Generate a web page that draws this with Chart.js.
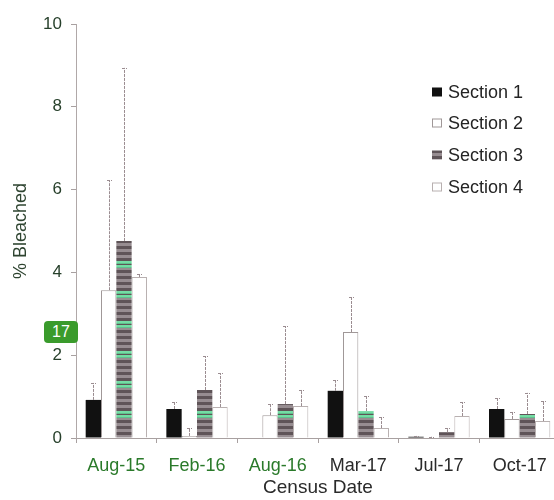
<!DOCTYPE html>
<html><head><meta charset="utf-8">
<script src="https://cdn.jsdelivr.net/npm/chart.js@4"></script>
<style>
html,body{margin:0;padding:0;background:#fff;overflow:hidden;width:554px;height:500px}
#wrap{position:relative;width:562px;height:500px}
#badge{position:absolute;left:44px;top:321px;width:34px;height:22px;background:#3a9b2c;border-radius:4px;color:#fff;font:16px 'Liberation Sans',Arial,sans-serif;text-align:center;line-height:22px}
</style></head><body>
<div id="wrap"><canvas id="c" width="562" height="500"></canvas><div id="badge">17</div></div>
<script>
const categories = ['Aug-15', 'Feb-16', 'Aug-16', 'Mar-17', 'Jul-17', 'Oct-17'];
const seriesNames = ['Section 1', 'Section 2', 'Section 3', 'Section 4'];
const section1 = [0.92, 0.70, 0.00, 1.14, 0.03, 0.70];
const section2 = [3.57, 0.05, 0.55, 2.56, 0.02, 0.46];
const section3 = [4.76, 1.16, 0.82, 0.65, 0.14, 0.58];
const section4 = [3.89, 0.75, 0.77, 0.24, 0.53, 0.41];
const section1Err = [0.41, 0.17, 0.00, 0.26, 0.02, 0.27];
const section2Err = [2.66, 0.19, 0.27, 0.85, 0.01, 0.17];
const section3Err = [4.18, 0.82, 1.88, 0.36, 0.10, 0.51];
const section4Err = [0.06, 0.82, 0.39, 0.27, 0.34, 0.48];
const yTicks = [0, 2, 4, 6, 8, 10];
const tickColors = ['#2a7a2a', '#2a7a2a', '#2a7a2a', '#2a2a2a', '#2a2a2a', '#2a2a2a'];
const FONT = "'Liberation Sans', Arial, sans-serif";

function stripePattern() {
  const p = document.createElement('canvas');
  p.width = 4; p.height = 30;
  const g = p.getContext('2d');
  const D = '#5f5458', L = '#978d91', G1 = '#74dca4', G2 = '#5fc08c';
  const rows = [D,D,D,L,L,L,D,D,D,L,L,L,D,D,D,L,L,L,D,D,D,G1,G1,G2,D,G1,G1,G2,L,L];
  rows.forEach((c, i) => { g.fillStyle = c; g.fillRect(0, i, 4, 1); });
  return g.createPattern(p, 'repeat');
}

const ctx = document.getElementById('c').getContext('2d');
const s3fill = stripePattern();
const fills = ['#111111', '#ffffff', s3fill, '#ffffff'];
const borders = ['#111111', '#a09898', s3fill, '#b8b0b0'];
const values = [section1, section2, section3, section4];
const errs = [section1Err, section2Err, section3Err, section4Err];

const errorBars = {
  id: 'errorBars',
  afterDatasetsDraw(chart) {
    const c = chart.ctx, y = chart.scales.y;
    c.save();
    c.strokeStyle = '#9a8c90';
    c.lineWidth = 1;
    c.setLineDash([3, 1]);
    chart.data.datasets.forEach((ds, di) => {
      const meta = chart.getDatasetMeta(di);
      meta.data.forEach((bar, i) => {
        const e = ds.errors[i];
        if (!e) return;
        const yb = y.getPixelForValue(ds.data[i]);
        const yt = y.getPixelForValue(ds.data[i] + e);
        const x = Math.round(bar.x) + 0.5;
        c.beginPath();
        c.moveTo(x, yb); c.lineTo(x, yt);
        c.moveTo(x - 2.5, Math.round(yt) + 0.5); c.lineTo(x + 2.5, Math.round(yt) + 0.5);
        c.stroke();
      });
    });
    c.restore();
  }
};

const legendPlugin = {
  id: 'sideLegend',
  afterDraw(chart) {
    const c = chart.ctx;
    const ys = [92, 123, 155, 187];
    c.save();
    c.font = "18px " + FONT;
    c.textBaseline = 'middle';
    chart.data.datasets.forEach((ds, i) => {
      const y = ys[i];
      c.fillStyle = ds.backgroundColor;
      c.fillRect(432, y - 4.5, 10, 9);
      if (i === 1 || i === 3) {
        c.strokeStyle = ds.borderColor; c.lineWidth = 1;
        c.strokeRect(432.5, y - 4, 9, 8);
      }
      c.fillStyle = '#242424';
      c.fillText(ds.label, 448, y + 1);
    });
    c.restore();
  }
};

new Chart(ctx, {
  type: 'bar',
  data: {
    labels: categories,
    datasets: seriesNames.map((n, i) => ({
      label: n,
      data: values[i],
      errors: errs[i],
      backgroundColor: fills[i],
      borderColor: borders[i],
      borderWidth: (i === 1 || i === 3) ? 1 : 0,
      categoryPercentage: 0.76,
      barPercentage: 1.0
    }))
  },
  options: {
    responsive: false,
    animation: false,
    devicePixelRatio: 1,
    layout: { padding: { top: 24, left: 0, right: 2, bottom: 0 } },
    plugins: { legend: { display: false }, tooltip: { enabled: false } },
    scales: {
      x: {
        grid: { offset: true, drawOnChartArea: false, drawTicks: true, tickLength: 5, color: '#a8a0a0' },
        border: { display: true, color: '#a8a0a0' },
        ticks: {
          font: { family: FONT, size: 18 },
          color: (c) => tickColors[c.index] || '#2a2a2a',
          padding: 12, maxRotation: 0, autoSkip: false
        },
        title: { display: true, text: 'Census Date', color: '#2a2a2a', font: { family: FONT, size: 19 }, padding: { top: 0, bottom: 1 } },
        afterFit(s) { s.height = 62; }
      },
      y: {
        min: 0, max: 10,
        afterBuildTicks(s) { s.ticks = yTicks.map(v => ({ value: v })); },
        ticks: { font: { family: FONT, size: 17 }, color: '#27402b', padding: 9 },
        grid: { drawOnChartArea: false, drawTicks: true, tickLength: 5, color: '#a8a0a0' },
        border: { display: true, color: '#b0a8a8', dash: [3, 2] },
        title: { display: true, text: '% Bleached', color: '#2e4430', font: { family: FONT, size: 18 }, padding: { top: 10, bottom: 0 } },
        afterFit(s) { s.width = 76; }
      }
    }
  },
  plugins: [errorBars, legendPlugin]
});
</script>
</body></html>
